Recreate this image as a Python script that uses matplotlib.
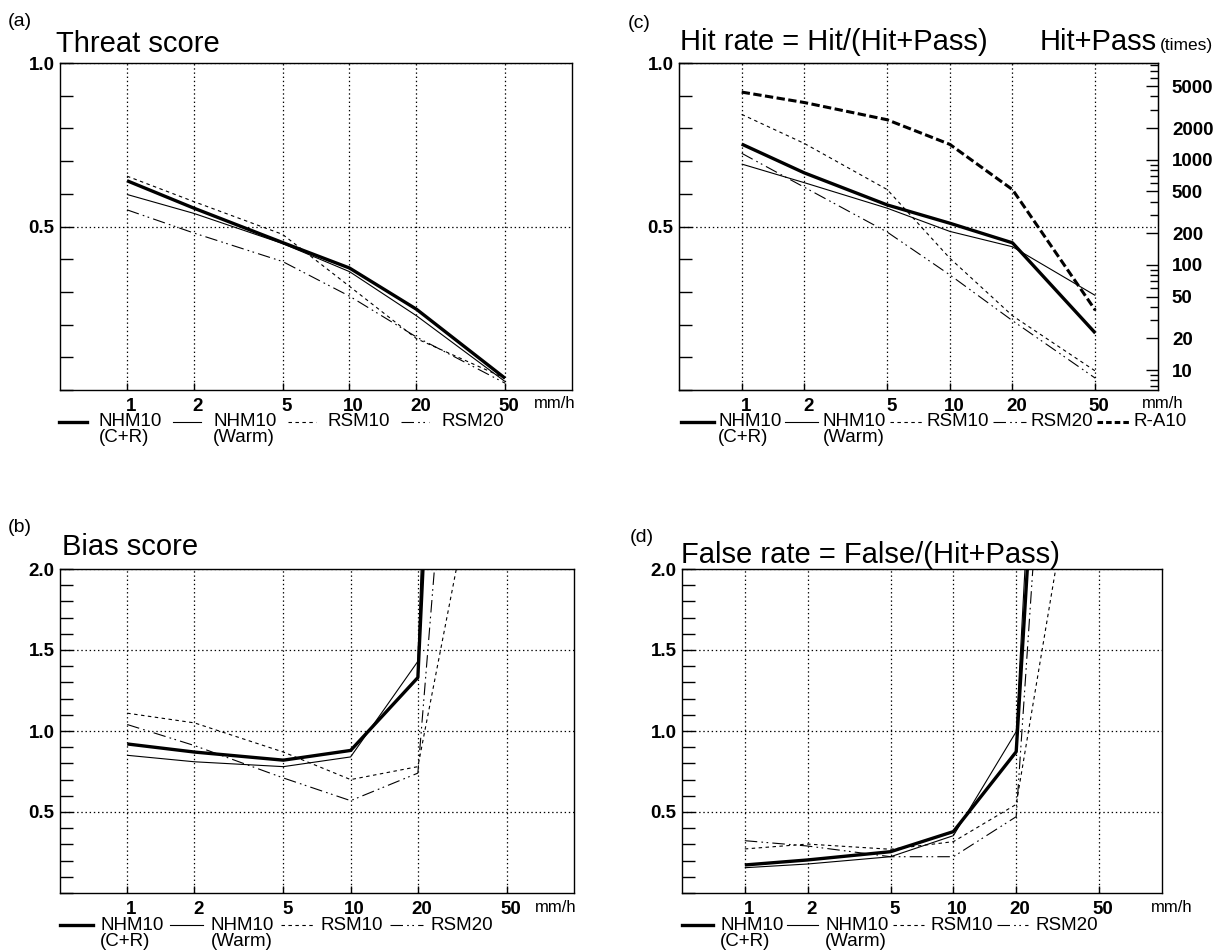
import numpy as np
import matplotlib
matplotlib.use("Agg")
import matplotlib.pyplot as plt
from matplotlib.lines import Line2D
from matplotlib.ticker import FixedLocator, MultipleLocator, NullLocator, NullFormatter, LogLocator
from matplotlib.transforms import ScaledTranslation

plt.rcParams["font.family"] = ["Liberation Sans", "DejaVu Sans"]
plt.rcParams["lines.scale_dashes"] = False

# rain-rate thresholds (mm/h)
thresholds = [1, 2, 5, 10, 20, 50]

# (a) threat score
threat_nhm_cr = [0.640, 0.556, 0.451, 0.373, 0.247, 0.036]
threat_nhm_warm = [0.598, 0.540, 0.448, 0.362, 0.227, 0.026]
threat_rsm10 = [0.654, 0.576, 0.476, 0.317, 0.157, 0.036]
threat_rsm20 = [0.551, 0.480, 0.393, 0.287, 0.162, 0.021]

# (b) bias score
bias_nhm_cr = [0.92, 0.87, 0.82, 0.88, 1.33, 13.0]
bias_nhm_warm = [0.85, 0.81, 0.78, 0.84, 1.43, 17.0]
bias_rsm10 = [1.11, 1.05, 0.87, 0.70, 0.78, 3.6]
bias_rsm20 = [1.04, 0.91, 0.71, 0.57, 0.74, 7.5]

# (c) hit rate, plus observed event count on the right axis
hit_nhm_cr = [0.752, 0.664, 0.566, 0.510, 0.450, 0.174]
hit_nhm_warm = [0.691, 0.634, 0.556, 0.485, 0.438, 0.289]
hit_rsm10 = [0.843, 0.754, 0.613, 0.403, 0.227, 0.058]
hit_rsm20 = [0.724, 0.620, 0.483, 0.352, 0.212, 0.036]
hit_pass_ra10 = [4400, 3500, 2400, 1400, 520, 37]

# (d) false rate
false_nhm_cr = [0.173, 0.204, 0.255, 0.379, 0.872, 9.3]
false_nhm_warm = [0.156, 0.179, 0.224, 0.354, 0.996, 10.5]
false_rsm10 = [0.272, 0.302, 0.270, 0.317, 0.547, 3.6]
false_rsm20 = [0.323, 0.290, 0.224, 0.224, 0.471, 8.1]

count_ticks = [10, 20, 50, 100, 200, 500, 1000, 2000, 5000]

STYLE = {
    "nhm_cr": dict(lw=2.4, ls="-"),
    "nhm_warm": dict(lw=0.8, ls="-"),
    "rsm10": dict(lw=0.8, ls=(0, (2.5, 2.5))),
    "rsm20": dict(lw=0.8, ls=(0, (9, 3, 1.2, 2.5, 1.2, 3))),
    "ra10": dict(lw=2.2, ls=(0, (6, 2.5))),
}
LEGEND_STYLE = dict(STYLE)
LEGEND_STYLE["ra10"] = dict(lw=2.2, ls=(0, (4, 2.2)))

W, H = 1221, 951
fig = plt.figure(figsize=(W / 100, H / 100), dpi=100)


def fx(x):
    return x / W


def fy(y):
    return 1 - y / H


def px_axes(x0, y0, x1, y1):
    return fig.add_axes([fx(x0), fy(y1), (x1 - x0) / W, (y1 - y0) / H])


def setup(ax, ymax, ylabels):
    ax.set_xscale("log")
    ax.set_xlim(0.5, 100)
    ax.set_ylim(0, ymax)
    ax.xaxis.set_major_locator(FixedLocator(thresholds))
    ax.xaxis.set_minor_locator(NullLocator())
    ax.set_xticklabels([str(t) for t in thresholds])
    ax.set_yticks(ylabels)
    ax.set_yticklabels([f"{v:.1f}" for v in ylabels])
    ax.yaxis.set_minor_locator(MultipleLocator(0.1))
    ax.tick_params(axis="both", which="both", direction="in", labelsize=13.5,
                   width=1.0, color="black")
    ax.tick_params(axis="y", which="both", length=9, pad=4)
    ax.tick_params(axis="x", which="major", length=5, pad=6)
    for lab in ax.get_xticklabels() + ax.get_yticklabels():
        lab.set_fontweight("bold")
    for lab in ax.get_xticklabels():
        lab.set_transform(lab.get_transform() + ScaledTranslation(0.04, 0, fig.dpi_scale_trans))
    ax.grid(True, which="major", color="black", linestyle=(0, (1, 2)), linewidth=0.9)
    for sp in ax.spines.values():
        sp.set_linewidth(1.0)


def draw(ax, series):
    for key, vals in series:
        ax.plot(thresholds, vals, color="black", solid_capstyle="butt",
                dash_capstyle="butt", **STYLE[key])


def legend(entries, x0, y0, sample=30, gap_in=9, gap_out=8, fs=13.5):
    r = fig.canvas.get_renderer()
    x = x0
    for key, name, sub in entries:
        fig.add_artist(Line2D([fx(x), fx(x + sample)], [fy(y0), fy(y0)],
                              transform=fig.transFigure, color="black",
                              dash_capstyle="butt", **LEGEND_STYLE[key]))
        tx = x + sample + gap_in
        t = fig.text(fx(tx), fy(y0), name, fontsize=fs, ha="left", va="center")
        if sub:
            fig.text(fx(tx), fy(y0 + 16), sub, fontsize=fs, ha="left", va="center")
        x = tx + t.get_window_extent(r).width + gap_out


base_entries = [("nhm_cr", "NHM10", "(C+R)"), ("nhm_warm", "NHM10", "(Warm)"),
                ("rsm10", "RSM10", None), ("rsm20", "RSM20", None)]

# (a) threat score
ax_a = px_axes(60, 63, 572, 390)
setup(ax_a, 1.0, [0.5, 1.0])
draw(ax_a, [("nhm_cr", threat_nhm_cr), ("nhm_warm", threat_nhm_warm),
            ("rsm10", threat_rsm10), ("rsm20", threat_rsm20)])
fig.text(fx(8), fy(21), "(a)", fontsize=14, va="center")
fig.text(fx(56), fy(52), "Threat score", fontsize=21, va="baseline")
fig.text(fx(555), fy(404), "mm/h", fontsize=12, ha="center", va="center")
legend(base_entries, 59, 422, sample=28, gap_in=12, gap_out=11)

# (b) bias score
ax_b = px_axes(60, 569, 574, 893)
setup(ax_b, 2.0, [0.5, 1.0, 1.5, 2.0])
draw(ax_b, [("nhm_cr", bias_nhm_cr), ("nhm_warm", bias_nhm_warm),
            ("rsm10", bias_rsm10), ("rsm20", bias_rsm20)])
fig.text(fx(8), fy(527), "(b)", fontsize=14, va="center")
fig.text(fx(62), fy(555), "Bias score", fontsize=21, va="baseline")
fig.text(fx(556), fy(907), "mm/h", fontsize=12, ha="center", va="center")
legend(base_entries, 60, 925, sample=33, gap_in=7, gap_out=7)

# (c) hit rate with Hit+Pass counts on a log right axis
ax_c = px_axes(679, 63, 1158, 390)
setup(ax_c, 1.0, [0.5, 1.0])
draw(ax_c, [("nhm_cr", hit_nhm_cr), ("nhm_warm", hit_nhm_warm),
            ("rsm10", hit_rsm10), ("rsm20", hit_rsm20)])
ax_cr = ax_c.twinx()
ax_cr.set_yscale("log")
ax_cr.set_ylim(10 ** 0.81, 10 ** 3.92)
ax_cr.set_yticks(count_ticks)
ax_cr.set_yticklabels([str(v) for v in count_ticks])
ax_cr.yaxis.set_minor_locator(LogLocator(base=10, subs=np.arange(2, 10)))
ax_cr.yaxis.set_minor_formatter(NullFormatter())
ax_cr.tick_params(axis="y", which="major", direction="in", length=9, width=1.0,
                  pad=10, labelsize=13.5)
ax_cr.tick_params(axis="y", which="minor", direction="in", length=6, width=1.0)
for lab in ax_cr.get_yticklabels():
    lab.set_fontweight("bold")
ax_cr.plot(thresholds, hit_pass_ra10, color="black", dash_capstyle="butt", **STYLE["ra10"])
ax_cr.set_xlim(0.5, 100)
fig.text(fx(628), fy(24), "(c)", fontsize=14, va="center")
fig.text(fx(680), fy(50), "Hit rate = Hit/(Hit+Pass)", fontsize=21, va="baseline")
fig.text(fx(1040), fy(50), "Hit+Pass", fontsize=21, va="baseline")
fig.text(fx(1160), fy(50), "(times)", fontsize=12.5, va="baseline")
fig.text(fx(1163), fy(404), "mm/h", fontsize=12, ha="center", va="center")
legend(base_entries + [("ra10", "R-A10", None)], 681, 422, sample=33, gap_in=4, gap_out=4)

# (d) false rate
ax_d = px_axes(682, 569, 1162, 893)
setup(ax_d, 2.0, [0.5, 1.0, 1.5, 2.0])
draw(ax_d, [("nhm_cr", false_nhm_cr), ("nhm_warm", false_nhm_warm),
            ("rsm10", false_rsm10), ("rsm20", false_rsm20)])
fig.text(fx(630), fy(538), "(d)", fontsize=14, va="center")
fig.text(fx(681), fy(563), "False rate = False/(Hit+Pass)", fontsize=21, va="baseline")
fig.text(fx(1172), fy(907), "mm/h", fontsize=12, ha="center", va="center")
legend(base_entries, 682, 925, sample=31, gap_in=7, gap_out=4)

fig.savefig("out.png", dpi=100, facecolor="white")
